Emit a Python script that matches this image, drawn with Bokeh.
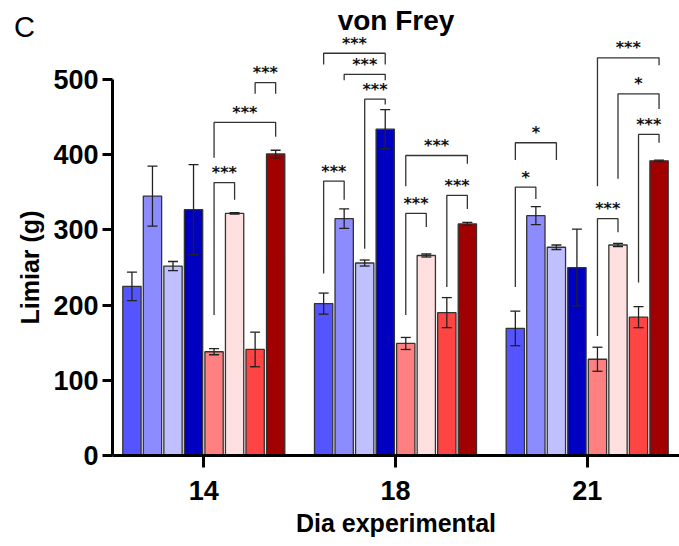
from bokeh.plotting import figure
from bokeh.models import ColumnDataSource, Range1d, FixedTicker, Whisker, TeeHead, Label
from bokeh.core.properties import value
from bokeh.embed import file_html
from bokeh.resources import INLINE

# ---------------- data ----------------
days = ["14", "18", "21"]

mean_d14 = [225, 345, 252, 327, 138, 322, 141, 401]
sem_d14 = [19, 40, 6, 60, 4, 1, 23, 5]
mean_d18 = [202, 315, 256, 434, 149, 266, 190, 308]
sem_d18 = [14, 13, 4, 26, 8, 2, 20, 2]
mean_d21 = [169, 319, 277, 250, 128, 280, 184, 392]
sem_d21 = [23, 12, 3, 51, 16, 2, 14, 1]

# significance brackets: day index, bar a, bar b, bracket top, left-leg end, right-leg end, label
br_day = [0, 0, 0, 1, 1, 1, 1, 1, 1, 1, 2, 2, 2, 2, 2, 2]
br_a = [6, 4, 4, 0, 1, 2, 0, 4, 6, 4, 0, 0, 4, 5, 6, 4]
br_b = [7, 7, 5, 3, 3, 3, 1, 7, 7, 5, 2, 1, 7, 7, 7, 5]
br_top = [496, 443, 363, 535, 507, 474, 365, 399, 346, 322, 416, 357, 529, 481, 427, 315]
br_left = [481, 396, 187, 520, 499, 275, 242, 358, 224, 187, 393, 224, 358, 368, 230, 159]
br_right = [481, 424, 340, 520, 499, 467, 340, 388, 328, 304, 393, 341, 519, 461, 416, 297]
br_text = ["***", "***", "***", "***", "***", "***", "***", "***", "***", "***",
           "*", "*", "***", "*", "***", "***"]

# ---------------- styling ----------------
colors = ["#5555FF", "#8C8CFF", "#C0C0FF", "#0000C0",
          "#FF8080", "#FFE0E0", "#FF4444", "#A00000"]
PITCH = 0.1071
BAR_W = 0.0955
FONT = "Liberation Sans"
X0, X1 = -0.4763, 2.4815   # extent of the drawn x axis

means = [mean_d14, mean_d18, mean_d21]
sems = [sem_d14, sem_d18, sem_d21]

xs, tops, ups, lows, fills = [], [], [], [], []
for g in range(len(days)):
    for i in range(len(colors)):
        xs.append(g + (i - 3.5) * PITCH)
        tops.append(means[g][i])
        ups.append(means[g][i] + sems[g][i])
        lows.append(means[g][i] - sems[g][i])
        fills.append(colors[i])
src = ColumnDataSource(dict(x=xs, top=tops, up=ups, low=lows, fill=fills))

bx, by, tx, ty, tt = [], [], [], [], []
for k in range(len(br_day)):
    xa = br_day[k] + (br_a[k] - 3.5) * PITCH
    xb = br_day[k] + (br_b[k] - 3.5) * PITCH
    bx.append([xa, xa, xb, xb])
    by.append([br_left[k], br_top[k], br_top[k], br_right[k]])
    tx.append((xa + xb) / 2)
    ty.append(br_top[k])
    tt.append(br_text[k])

p = figure(frame_width=679, frame_height=540,
           x_range=Range1d(-1.0605, 2.4815), y_range=Range1d(-113.1, 605.2),
           output_backend="svg", toolbar_location=None,
           min_border_left=0, min_border_top=0, min_border_right=0, min_border_bottom=0)
p.outline_line_color = None
p.grid.visible = False
p.background_fill_color = "white"

p.vbar(x="x", top="top", width=BAR_W, fill_color="fill", line_color="#333333",
       line_width=1.3, source=src)
p.add_layout(Whisker(base="x", upper="up", lower="low", source=src, dimension="height",
                     level="annotation",
                     line_color="#222222", line_width=1.3,
                     upper_head=TeeHead(size=10, line_color="#222222", line_width=1.3),
                     lower_head=TeeHead(size=10, line_color="#222222", line_width=1.3)))

p.multi_line(xs=bx, ys=by, line_color="#333333", line_width=1.3)
p.text(x=tx, y=ty, text=tt, text_align="center", text_baseline="alphabetic",
       y_offset=-10, text_font=value("DejaVu Sans"), text_font_size="16px",
       text_font_style="bold", text_color="#111111")

# axes (fixed inside the frame so the whole canvas is one drawing area)
p.yaxis.fixed_location = X0
p.yaxis.ticker = FixedTicker(ticks=[0, 100, 200, 300, 400, 500])
p.yaxis.bounds = (0, 500)
p.yaxis.minor_tick_line_color = None
p.yaxis.major_tick_in = 0
p.yaxis.major_tick_out = 10
p.yaxis.major_tick_line_width = 3
p.yaxis.axis_line_width = 3
p.yaxis.major_label_standoff = 4
p.yaxis.axis_label = "Limiar (g)"
p.yaxis.axis_label_standoff = 6

p.xaxis.fixed_location = 0
p.xaxis.ticker = FixedTicker(ticks=list(range(len(days))))
p.xaxis.major_label_overrides = {i: d for i, d in enumerate(days)}
p.xaxis.bounds = (X0, X1)
p.xaxis.minor_tick_line_color = None
p.xaxis.major_tick_in = 0
p.xaxis.major_tick_out = 12
p.xaxis.major_tick_line_width = 3
p.xaxis.axis_line_width = 3
p.xaxis.major_label_standoff = 14
p.xaxis.axis_label = "Dia experimental"
p.xaxis.axis_label_standoff = 5

for ax in (p.xaxis[0], p.yaxis[0]):
    ax.axis_line_color = "black"
    ax.major_tick_line_color = "black"
    ax.major_label_text_font = FONT
    ax.major_label_text_font_style = "bold"
    ax.major_label_text_font_size = "27px"
    ax.major_label_text_color = "black"
    ax.axis_label_text_font = FONT
    ax.axis_label_text_font_style = "bold"
    ax.axis_label_text_font_size = "25px"
    ax.axis_label_text_color = "black"

p.add_layout(Label(x=1.0026, y=578.6, text="von Frey", text_align="center",
                   text_baseline="alphabetic", text_font=FONT, text_font_style="bold",
                   text_font_size="28px", text_color="black"))
p.add_layout(Label(x=-0.99, y=570.6, text="C", text_align="left",
                   text_baseline="alphabetic", text_font=FONT,
                   text_font_size="29px", text_color="black"))

open("out.html", "w").write(file_html(p, INLINE))
